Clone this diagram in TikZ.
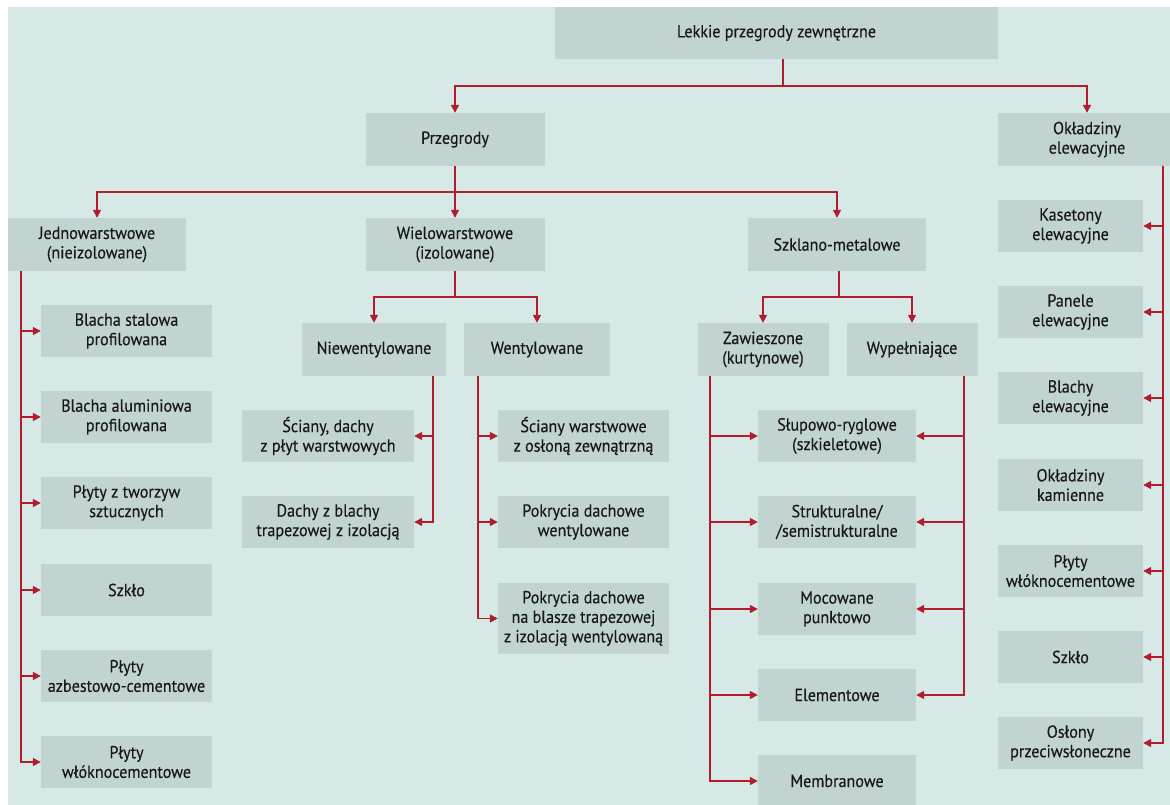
\documentclass[tikz,border=0pt]{standalone}
\usepackage{fontspec}
\newfontfamily\bxf{PT Sans}[FakeStretch=0.92,FakeBold=0.3]
\usetikzlibrary{arrows.meta}
\definecolor{bgc}{HTML}{D7E9E6}
\definecolor{boxc}{HTML}{C1D4D2}
\definecolor{linec}{HTML}{B21C2D}
\definecolor{txtc}{HTML}{181818}
\tikzset{
  box/.style={fill=boxc, inner sep=0pt, align=center, text=txtc,
    font=\bxf\fontsize{17.5pt}{19.5pt}\selectfont},
  hdr/.style={box, minimum width=179pt, minimum height=53pt},
  lcol/.style={box, minimum width=171pt, minimum height=52pt},
  ncol/.style={box, minimum width=172pt, minimum height=52pt},
  scol/.style={box, minimum width=158pt, minimum height=52pt},
  rcol/.style={box, minimum width=145pt, minimum height=52pt},
  conn/.style={draw=linec, line width=1.5pt},
  arr/.style={conn, -{Triangle[length=8pt,width=8pt]}}
}
\begin{document}
\begin{tikzpicture}[x=1pt,y=-1pt]
\path[use as bounding box, clip] (0,0) rectangle (1170,805);
\fill[white] (0,0) rectangle (1170,805);
\fill[bgc] (8,7) rectangle (1170,805);

% level 0-1
\node[box, minimum width=443pt, minimum height=52pt] (top) at (776.5,33) {Lekkie przegrody zewnętrzne};
\node[hdr] (prz) at (455,139.5) {Przegrody};
\node[box, minimum width=178pt, minimum height=53pt] (okl) at (1087,139.5) {Okładziny\\elewacyjne};

% level 2
\node[hdr, minimum width=178pt] (jed) at (97,244.5) {Jednowarstwowe\\(nieizolowane)};
\node[hdr] (wie) at (455,244.5) {Wielowarstwowe\\(izolowane)};
\node[hdr, minimum width=178pt] (szk) at (837,244.5) {Szklano-metalowe};

% level 3
\node[box, minimum width=144pt, minimum height=53pt] (nie) at (374,349.5) {Niewentylowane};
\node[box, minimum width=146pt, minimum height=53pt] (wen) at (537,349.5) {Wentylowane};
\node[box, minimum width=131pt, minimum height=53pt] (zaw) at (763,349.5) {Zawieszone\\(kurtynowe)};
\node[box, minimum width=131pt, minimum height=53pt] (wyp) at (912,349.5) {Wypełniające};

% left column
\node[lcol] (l1) at (126.5,331) {Blacha stalowa\\profilowana};
\node[lcol] (l2) at (126.5,417) {Blacha aluminiowa\\profilowana};
\node[lcol] (l3) at (126.5,503) {Płyty z tworzyw\\sztucznych};
\node[lcol] (l4) at (126.5,590) {Szkło};
\node[lcol] (l5) at (126.5,676) {Płyty\\azbestowo-cementowe};
\node[lcol] (l6) at (126.5,762) {Płyty\\włóknocementowe};

% niewentylowane children
\node[ncol] (n1) at (328,436) {Ściany, dachy\\z płyt warstwowych};
\node[ncol] (n2) at (328,522) {Dachy z blachy\\trapezowej z izolacją};

% wentylowane children
\node[lcol] (w1) at (583.5,436) {Ściany warstwowe\\z osłoną zewnątrzną};
\node[lcol] (w2) at (583.5,522) {Pokrycia dachowe\\wentylowane};
\node[lcol, minimum height=71pt] (w3) at (583.5,618.5) {Pokrycia dachowe\\na blasze trapezowej\\z izolacją wentylowaną};

% szklano-metalowe children
\node[scol] (s1) at (837,436) {Słupowo-ryglowe\\(szkieletowe)};
\node[scol] (s2) at (837,522) {Strukturalne/\\/semistrukturalne};
\node[scol] (s3) at (837,609) {Mocowane\\punktowo};
\node[scol] (s4) at (837,695) {Elementowe};
\node[scol] (s5) at (837,781) {Membranowe};

% right column
\node[rcol] (r1) at (1070.5,226) {Kasetony\\elewacyjne};
\node[rcol] (r2) at (1070.5,312) {Panele\\elewacyjne};
\node[rcol] (r3) at (1070.5,398) {Blachy\\elewacyjne};
\node[rcol] (r4) at (1070.5,485) {Okładziny\\kamienne};
\node[rcol] (r5) at (1070.5,571) {Płyty\\włóknocementowe};
\node[rcol] (r6) at (1070.5,657) {Szkło};
\node[rcol] (r7) at (1070.5,743) {Osłony\\przeciwsłoneczne};

% junctions
\coordinate (t0) at ([xshift=6.5pt]top.south);
\coordinate (j1) at (783,86);
\coordinate (j2) at (455,192);
\coordinate (j3) at (455,297);
\coordinate (j4) at (839,297);
\coordinate (jl) at ([xshift=13pt]jed.south west);
\coordinate (jn) at ([xshift=-13pt]nie.south east);
\coordinate (jw) at ([xshift=14pt]wen.south west);
\coordinate (jz) at ([xshift=12.5pt]zaw.south west);
\coordinate (jy) at ([xshift=-13.5pt]wyp.south east);
\coordinate (jo) at ([xshift=-13pt]okl.south east);
\coordinate (ks) at ([xshift=2pt]szk.south);

% connectors
\draw[conn] (t0) -- (j1);
\draw[arr] (j1) -| (prz.north);
\draw[arr] (j1) -| (okl.north);

\draw[conn] (prz.south) -- (j2);
\draw[arr] (j2) -| (jed.north);
\draw[arr] (j2) -- (wie.north);
\draw[arr] (j2) -| (szk.north);

\draw[conn] (wie.south) -- (j3);
\draw[arr] (j3) -| (nie.north);
\draw[arr] (j3) -| (wen.north);

\draw[conn] (ks) -- (j4);
\draw[arr] (j4) -| (zaw.north);
\draw[arr] (j4) -| (wyp.north);

\foreach \c in {l1,l2,l3,l4,l5,l6} \draw[arr] (jl) |- (\c.west);
\foreach \c in {n1,n2} \draw[arr] (jn) |- (\c.east);
\foreach \c in {w1,w2,w3} \draw[arr] (jw) |- (\c.west);
\foreach \c in {s1,s2,s3,s4,s5} \draw[arr] (jz) |- (\c.west);
\foreach \c in {s1,s2,s3,s4} \draw[arr] (jy) |- (\c.east);
\foreach \c in {r1,r2,r3,r4,r5,r6,r7} \draw[arr] (jo) |- (\c.east);
\end{tikzpicture}
\end{document}
